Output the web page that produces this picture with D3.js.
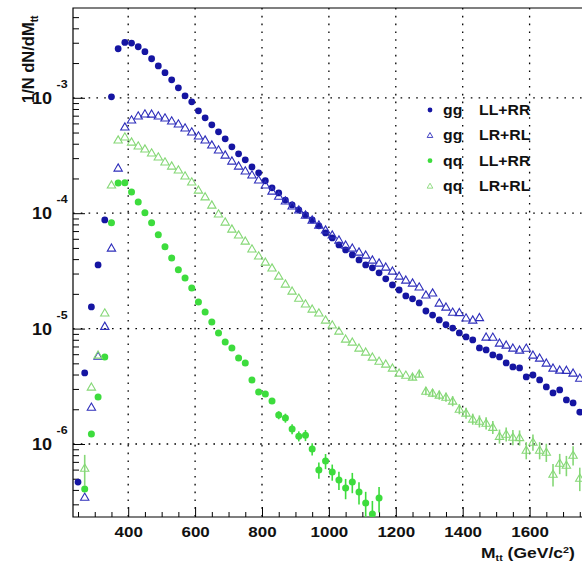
<!DOCTYPE html>
<html><head><meta charset="utf-8">
<script src="https://cdn.jsdelivr.net/npm/d3@7"></script>
<style>
body{margin:0;background:#fff}
svg{display:block}
text{font-family:"Liberation Sans",Arial,Helvetica,sans-serif;font-weight:bold;fill:#111}
</style>
</head><body>
<svg id="chart" width="582" height="566"></svg>
<script>
// ---- data (bin centres in GeV/c^2) ----
const massBins = [
 250,270,290,310,330,350,370,390,410,430,
 450,470,490,510,530,550,570,590,610,630,
 650,670,690,710,730,750,770,790,810,830,
 850,870,890,910,930,950,970,990,1010,1030,
 1050,1070,1090,1110,1130,1150,1170,1190,1210,1230,
 1250,1270,1290,1310,1330,1350,1370,1390,1410,1430,
 1450,1470,1490,1510,1530,1550,1570,1590,1610,1630,
 1650,1670,1690,1710,1730,1750];

const ggLLRR = [
 4.68e-7,4.13e-6,1.54e-5,3.56e-5,8.75e-5,1.02e-3,2.66e-3,3.02e-3,2.98e-3,2.77e-3,
 2.51e-3,2.18e-3,1.89e-3,1.65e-3,1.43e-3,1.22e-3,1.04e-3,9.23e-4,7.71e-4,6.71e-4,
 5.83e-4,5.07e-4,4.41e-4,3.76e-4,3.27e-4,2.90e-4,2.52e-4,2.24e-4,1.91e-4,1.66e-4,
 1.50e-4,1.30e-4,1.18e-4,1.07e-4,9.67e-5,8.75e-5,7.77e-5,6.75e-5,6.11e-5,5.31e-5,
 4.81e-5,4.35e-5,3.94e-5,3.56e-5,3.36e-5,3.04e-5,2.70e-5,2.39e-5,2.16e-5,1.92e-5,
 1.81e-5,1.67e-5,1.42e-5,1.31e-5,1.19e-5,1.08e-5,1.01e-5,9.17e-6,8.47e-6,7.97e-6,
 6.80e-6,6.53e-6,5.91e-6,5.68e-6,5.04e-6,4.65e-6,4.56e-6,3.81e-6,3.96e-6,3.59e-6,
 3.12e-6,2.77e-6,2.94e-6,2.41e-6,2.27e-6,1.89e-6];

const ggLRRL = [
 null,3.47e-7,2.09e-6,5.79e-6,1.05e-5,5.00e-5,2.47e-4,5.60e-4,6.45e-4,6.98e-4,
 7.27e-4,7.25e-4,6.98e-4,6.71e-4,6.32e-4,5.95e-4,5.49e-4,5.07e-4,4.68e-4,4.32e-4,
 3.91e-4,3.54e-4,3.20e-4,2.84e-4,2.57e-4,2.33e-4,2.15e-4,1.95e-4,1.76e-4,1.56e-4,
 1.41e-4,1.28e-4,1.16e-4,1.07e-4,9.67e-5,8.75e-5,7.92e-5,7.17e-5,6.49e-5,5.87e-5,
 5.31e-5,5.00e-5,4.62e-5,4.35e-5,3.94e-5,3.71e-5,3.42e-5,3.16e-5,2.86e-5,2.64e-5,
 2.49e-5,2.30e-5,1.96e-5,2.04e-5,1.67e-5,1.54e-5,1.39e-5,1.38e-5,1.24e-5,1.19e-5,
 1.25e-5,8.47e-6,8.45e-6,7.51e-6,7.22e-6,6.80e-6,6.53e-6,6.78e-6,5.91e-6,5.57e-6,
 5.04e-6,4.56e-6,4.38e-6,4.36e-6,4.13e-6,3.73e-6];

const qqLLRR = [
 null,4.07e-7,1.22e-6,2.55e-6,5.68e-6,8.25e-5,1.83e-4,1.84e-4,1.53e-4,1.25e-4,
 1.01e-4,8.25e-5,6.49e-5,5.11e-5,4.10e-5,3.23e-5,2.75e-5,2.25e-5,1.70e-5,1.39e-5,
 1.14e-5,9.17e-6,7.66e-6,6.80e-6,5.57e-6,5.04e-6,3.59e-6,2.82e-6,2.71e-6,2.36e-6,
 1.78e-6,1.68e-6,1.35e-6,1.17e-6,1.19e-6,9.05e-7,5.95e-7,7.12e-7,5.72e-7,4.87e-7,
 4.15e-7,4.68e-7,3.83e-7,3.08e-7,2.47e-7,3.40e-7,null,null,null,null,
 null,null,null,null,null,null,null,null,null,null,
 null,null,null,null,null,null,null,null,null,null,
 null,null,null,null,null,null];

// relative statistical errors (fraction of value)
const qqLLRRerr = [
 0,0,0,0,0,0,0,0,0,0,
 0,0,0,0,0,0,0,0,0,0,
 0,0,0,0,0,0,0,0,0,0,
 0.08,0.09,0.10,0.10,0.11,0.12,0.16,0.15,0.16,0.18,
 0.20,0.20,0.22,0.25,0.30,0.25,0,0,0,0,
 0,0,0,0,0,0,0,0,0,0,
 0,0,0,0,0,0,0,0,0,0,
 0,0,0,0,0,0];

const qqLRRL = [
 null,6.19e-7,3.12e-6,5.91e-6,1.37e-5,1.76e-4,4.32e-4,4.59e-4,4.15e-4,3.84e-4,
 3.61e-4,3.34e-4,3.08e-4,2.79e-4,2.57e-4,2.38e-4,2.11e-4,1.87e-4,1.59e-4,1.39e-4,
 1.18e-4,9.87e-5,8.41e-5,7.31e-5,6.49e-5,5.75e-5,4.91e-5,4.27e-5,3.78e-5,3.36e-5,
 2.86e-5,2.44e-5,2.12e-5,1.84e-5,1.64e-5,1.48e-5,1.37e-5,1.19e-5,1.08e-5,9.54e-6,
 8.13e-6,7.66e-6,6.80e-6,6.28e-6,5.68e-6,5.24e-6,4.94e-6,4.56e-6,4.13e-6,3.96e-6,
 3.81e-6,4.05e-6,2.88e-6,2.77e-6,2.66e-6,2.55e-6,2.36e-6,2.01e-6,1.86e-6,1.65e-6,
 1.58e-6,1.52e-6,1.40e-6,1.17e-6,1.22e-6,1.15e-6,1.14e-6,8.87e-7,1.04e-6,8.87e-7,
 8.52e-7,5.49e-7,6.84e-7,6.57e-7,8.03e-7,5.07e-7];

const qqLRRLerr = [
 0,0.30,0,0,0,0,0,0,0,0,
 0,0,0,0,0,0,0,0,0,0,
 0,0,0,0,0,0,0,0,0,0,
 0,0,0,0,0,0,0,0,0,0,
 0,0,0,0,0,0,0,0,0,0,
 0.06,0.06,0.08,0.08,0.09,0.09,0.10,0.10,0.11,0.11,
 0.12,0.12,0.13,0.14,0.14,0.15,0.15,0.17,0.16,0.17,
 0.18,0.22,0.20,0.20,0.19,0.23];

const xTickLabels = [400,600,800,1000,1200,1400,1600];
const yDecades = [1e-3,1e-4,1e-5,1e-6];
const yDecadeExp = ["-3","-4","-5","-6"];
const legendProcess = ["gg","gg","qq","qq"];
const legendHel = ["LL+RR","LR+RL","LL+RR","LR+RL"];

// ---- drawing ----
const svg = d3.select("#chart");
const L = 73, T = 8, B = 517, R = 596.5;
const x = d3.scaleLinear().domain([235, 1800]).range([L, R]);
const y = d3.scaleLog().domain([2.33e-7, 6.0e-3]).range([B, T]);
const SX = 1.13; // horizontal stretch of the original raster text

svg.append("defs").append("clipPath").attr("id","plotclip")
  .append("rect").attr("x",L).attr("y",T).attr("width",R-L).attr("height",B-T);

// grid
const grid = svg.append("g").attr("stroke","#000").attr("stroke-width",1.3)
  .attr("stroke-dasharray","1.6,6.2");
grid.selectAll("line.v").data(xTickLabels).join("line")
  .attr("x1",d=>x(d)).attr("x2",d=>x(d)).attr("y1",T).attr("y2",B);
grid.selectAll("line.h").data(yDecades).join("line")
  .attr("x1",L).attr("x2",R).attr("y1",d=>y(d)).attr("y2",d=>y(d));

// axes (ticks inward)
const axes = svg.append("g");
const xMinor = d3.range(250, 1800, 50).filter(v => !xTickLabels.includes(v));
axes.append("g").attr("transform",`translate(0,${B})`)
  .call(d3.axisBottom(x).tickValues(xMinor).tickSize(-5).tickFormat(""))
  .call(g=>g.select(".domain").remove());
axes.append("g").attr("transform",`translate(0,${B})`)
  .call(d3.axisBottom(x).tickValues(xTickLabels).tickSize(-10).tickPadding(9)
        .tickFormat(d3.format("d")))
  .call(g=>g.select(".domain").remove())
  .call(g=>g.selectAll("text").attr("font-size",15).attr("font-family",null)
        .attr("fill","#111").attr("transform",`scale(${SX},1)`));

const yMinor = [];
[1e-7,1e-6,1e-5,1e-4,1e-3].forEach(dec => {
  [2,3,4,5,6,7,8,9].forEach(m => { const v = m*dec; if (v > 2.33e-7 && v < 6e-3) yMinor.push(v); });
});
axes.append("g").attr("transform",`translate(${L},0)`)
  .call(d3.axisLeft(y).tickValues(yMinor).tickSize(-6).tickFormat(""))
  .call(g=>g.select(".domain").remove());
axes.append("g").attr("transform",`translate(${L},0)`)
  .call(d3.axisLeft(y).tickValues(yDecades).tickSize(-12).tickFormat(""))
  .call(g=>g.select(".domain").remove());
axes.selectAll("line").attr("stroke","#000").attr("stroke-width",1);

// frame
svg.append("path").attr("fill","none").attr("stroke","#000").attr("stroke-width",1.2)
  .attr("d",`M${R},${T}H${L}V${B}H${R}`);

// y labels 10^n
const yl = svg.append("g");
yDecades.forEach((d,i) => {
  yl.append("text").attr("transform",`translate(52,${y(d)+6}) scale(${SX},1)`)
    .attr("text-anchor","end").attr("font-size",16).text("10");
  yl.append("text").attr("transform",`translate(56.5,${y(d)-10}) scale(${SX},1)`)
    .attr("text-anchor","start").attr("font-size",11).text(yDecadeExp[i]);
});

// axis titles
const yt = svg.append("text").attr("transform","translate(34,103) rotate(-90)")
  .attr("font-size",16.5);
yt.append("tspan").text("1/N dN/dM");
yt.append("tspan").attr("font-size",10).attr("dy",4).text("tt");

const xt = svg.append("text").attr("transform",`translate(481,558) scale(${SX},1)`)
  .attr("font-size",15.5);
xt.append("tspan").text("M");
xt.append("tspan").attr("font-size",9.5).attr("dy",3).text("tt");
xt.append("tspan").attr("dy",-3).text(" (GeV/c");
xt.append("tspan").attr("font-size",9.5).attr("dy",-5).text("2");
xt.append("tspan").attr("dy",5).text(")");

// data
const plot = svg.append("g").attr("clip-path","url(#plotclip)");
const series = [
  {vals: ggLLRR, err: null,      kind:"circle", color:"#1515a2", r:3.4},
  {vals: ggLRRL, err: null,      kind:"tri",    color:"#2f2fbb", r:0},
  {vals: qqLLRR, err: qqLLRRerr, kind:"circle", color:"#3ddc3d", r:3.5},
  {vals: qqLRRL, err: qqLRRLerr, kind:"tri",    color:"#86d877", r:0}
];
const triSym = d3.symbol(d3.symbolTriangle).size(30);
series.forEach(s => {
  const pts = massBins.map((m,i)=>({m, v:s.vals[i], e: s.err ? s.err[i] : 0}))
    .filter(p => p.v !== null);
  const g = plot.append("g");
  g.selectAll("line.err").data(pts.filter(p=>p.e>0)).join("line")
    .attr("x1",p=>x(p.m)).attr("x2",p=>x(p.m))
    .attr("y1",p=>y(p.v*(1+p.e))).attr("y2",p=>y(Math.max(p.v*(1-p.e),1e-9)))
    .attr("stroke",s.color).attr("stroke-width",1.6);
  if (s.kind === "circle") {
    g.selectAll("circle").data(pts).join("circle")
      .attr("cx",p=>x(p.m)).attr("cy",p=>y(p.v)).attr("r",s.r)
      .attr("fill",s.color);
  } else {
    g.selectAll("path").data(pts).join("path")
      .attr("d",triSym)
      .attr("transform",p=>`translate(${x(p.m)},${y(p.v)+0.8})`)
      .attr("fill","none").attr("stroke",s.color).attr("stroke-width",1.1);
  }
});

// legend
const lg = svg.append("g");
const rowY = [110,135.3,160.7,186];
series.forEach((s,i) => {
  if (s.kind === "circle") {
    lg.append("circle").attr("cx",430).attr("cy",rowY[i]).attr("r",2.4).attr("fill",s.color);
  } else {
    lg.append("path").attr("d",d3.symbol(d3.symbolTriangle).size(14))
      .attr("transform",`translate(430,${rowY[i]+0.5})`)
      .attr("fill","none").attr("stroke",s.color).attr("stroke-width",0.9);
  }
  lg.append("text").attr("transform",`translate(443,${rowY[i]+5}) scale(${SX},1)`)
    .attr("font-size",14).text(legendProcess[i]);
  lg.append("text").attr("transform",`translate(479,${rowY[i]+5}) scale(${SX},1)`)
    .attr("font-size",14).text(legendHel[i]);
});
</script>
</body></html>
